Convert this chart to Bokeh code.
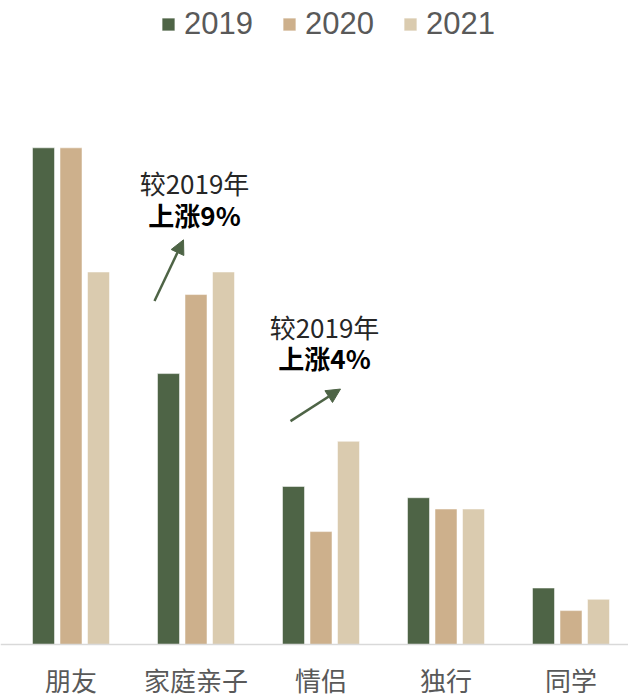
from bokeh.plotting import figure
from bokeh.models import (ColumnDataSource, Range1d, FixedTicker, Legend, LegendItem,
                          Span, Arrow, NormalHead)
from bokeh.transform import dodge
from bokeh.core.properties import value
from bokeh.embed import file_html
from bokeh.resources import INLINE

# ---- data ----
categories = ["朋友", "家庭亲子", "情侣", "独行", "同学"]
years = ["2019", "2020", "2021"]
v2019 = [44, 24, 14, 13, 5]
v2020 = [44, 31, 10, 12, 3]
v2021 = [33, 33, 18, 12, 4]

ann1_line1 = "较2019年"
ann1_line2 = "上涨9%"
ann2_line1 = "较2019年"
ann2_line2 = "上涨4%"

# ---- styling / layout ----
colors = ["#4E6446", "#CDB08C", "#DACBAF"]
PX_PER_UNIT = 11.27
CAT_PX = 125.0
W, H = 628, 700
BASE = 643          # pixel row of the zero line
FRAME_BOTTOM = 659  # expected frame bottom

y_end = BASE / PX_PER_UNIT
y_start = -(FRAME_BOTTOM - BASE) / PX_PER_UNIT
x_start = -0.5 - 8 / CAT_PX
x_end = x_start + W / CAT_PX

src = ColumnDataSource(dict(x=list(range(len(categories))), v2019=v2019, v2020=v2020, v2021=v2021))

p = figure(width=W, height=H, output_backend="svg", toolbar_location=None,
           x_range=Range1d(x_start, x_end), y_range=Range1d(y_start, y_end),
           min_border_top=0, min_border_left=0, min_border_right=0, min_border_bottom=0,
           y_axis_location=None)
p.outline_line_color = None
p.grid.visible = False
p.background_fill_color = "white"

renderers = []
for i, (col, c) in enumerate(zip(["v2019", "v2020", "v2021"], colors)):
    r = p.vbar(x=dodge("x", (i - 1) * 0.22, range=None), top=col, width=0.176, bottom=0,
               source=src, fill_color=c, line_color="white", line_alpha=0.5, line_width=1)
    renderers.append(r)

p.add_layout(Span(location=0, dimension="width", line_color="#D9D9D9", line_width=1.5))

ax = p.xaxis[0]
ax.ticker = FixedTicker(ticks=list(range(len(categories))))
ax.major_label_overrides = {i: c for i, c in enumerate(categories)}
ax.axis_line_color = None
ax.major_tick_line_color = None
ax.minor_tick_line_color = None
ax.major_tick_out = 0
ax.major_tick_in = 0
ax.major_label_text_font = "Noto Sans CJK SC"
ax.major_label_text_font_size = "26px"
ax.major_label_text_color = "#595959"
ax.major_label_standoff = 0

legend = Legend(items=[LegendItem(label=y, renderers=[r]) for y, r in zip(years, renderers)],
                orientation="horizontal", location=(160, FRAME_BOTTOM - 41), padding=0, margin=0,
                spacing=28, label_standoff=8, glyph_width=16, glyph_height=16,
                label_text_font="Liberation Sans", label_text_font_size="31px",
                label_text_color="#595959", border_line_color=None,
                background_fill_alpha=0)
p.add_layout(legend)

# annotations (positions in data units)
ann_x = [0.988, 2.028]
ann_y1 = [40.9, 28.2]
ann_y2 = [38.07, 25.4]
p.text(x=ann_x, y=ann_y1, text=[ann1_line1, ann2_line1], text_font=value("Noto Sans CJK SC"),
       text_font_size="26px", text_color="#262626", text_align="center", text_baseline="middle")
p.text(x=ann_x, y=ann_y2, text=[ann1_line2, ann2_line2], text_font=value("Noto Sans CJK SC"),
       text_font_size="26px", text_font_style="bold", text_color="#000000",
       text_align="center", text_baseline="middle")

arrows = [((0.668, 30.43), (0.90, 35.85)), ((1.756, 19.79), (2.156, 22.63))]
for (xs, ys), (xe, ye) in arrows:
    p.add_layout(Arrow(x_start=xs, y_start=ys, x_end=xe, y_end=ye,
                       line_color="#4E6446", line_width=2.5,
                       end=NormalHead(size=14, fill_color="#4E6446", line_color="#4E6446")))

open("out.html", "w").write(file_html(p, INLINE))
